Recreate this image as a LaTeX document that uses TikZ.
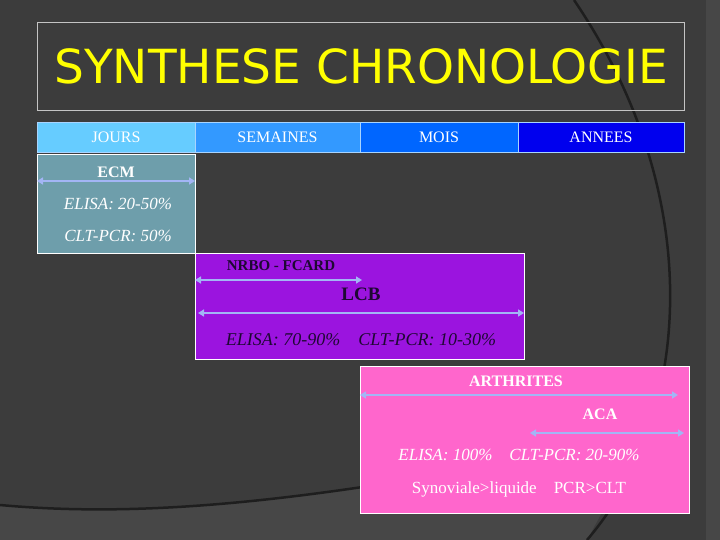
\documentclass[tikz,border=0pt]{standalone}
\usepackage{fontspec}
\setmainfont{Liberation Serif}
\newfontfamily\titlefont{DejaVu Sans}
\usetikzlibrary{arrows.meta,positioning}

\definecolor{bgdark}{HTML}{3C3C3C}
\definecolor{bglight}{HTML}{474747}
\definecolor{arcline}{HTML}{1E1E1E}
\definecolor{frame}{HTML}{C4C4C4}
\definecolor{titleyellow}{HTML}{FFFF00}
\definecolor{jours}{HTML}{66CCFF}
\definecolor{semaines}{HTML}{3399FF}
\definecolor{mois}{HTML}{0066FF}
\definecolor{annees}{HTML}{0000EE}
\definecolor{cellline}{HTML}{A8D4FF}
\definecolor{ecmfill}{HTML}{6E9EAB}
\definecolor{lcbfill}{HTML}{9B14DF}
\definecolor{arthfill}{HTML}{FF66CC}
\definecolor{spanblue}{HTML}{A3B5F5}
\definecolor{darktext}{HTML}{1E0833}

\tikzset{
  cell/.style={draw=cellline, line width=0.8pt, minimum height=30pt, inner sep=0pt,
    outer sep=0pt, text=white, font=\fontsize{16}{18}\selectfont},
  phase/.style={draw=white, line width=1pt, inner sep=0pt, outer sep=0pt, anchor=north west},
  lbl/.style={inner sep=1pt, font=\fontsize{17}{19}\selectfont},
  head/.style={inner sep=1pt, font=\fontsize{16}{18}\selectfont\bfseries},
  span/.style={draw=spanblue, line width=2pt,
    {Triangle[length=6pt,width=7pt]}-{Triangle[length=6pt,width=7pt]}},
}

\begin{document}
\begin{tikzpicture}[x=1pt,y=-1pt]
\useasboundingbox (0,0) rectangle (720,540);

% --- BACKGROUND ---
\fill[bgdark] (0,0) rectangle (720,540);
\fill[bglight] (706,0) rectangle (720,540);
\fill[bglight] (0,505) .. controls (120,516) and (250,506) .. (420,478) -- (625,470) -- (587,540) -- (0,540) -- cycle;
\draw[arcline, line width=2.5pt] (0,505) .. controls (120,516) and (250,506) .. (420,478);
\draw[arcline, line width=2.5pt] (574,0) .. controls (710,200) and (690,420) .. (587,540);

% --- TITLE ---
\node[draw=frame, line width=1pt, minimum width=647pt, minimum height=88pt, inner sep=0pt,
  anchor=north west] (titlebox) at (37,22) {};
\node[text=titleyellow, font=\titlefont\fontsize{47}{50}\selectfont] (title) at (titlebox.center) {SYNTHESE CHRONOLOGIE};

% --- TIME SCALE ---
\node[cell, fill=jours, minimum width=158pt, anchor=north west] (jours) at (37,122) {JOURS};
\node[cell, fill=semaines, minimum width=165pt, right=0pt of jours] (semaines) {SEMAINES};
\node[cell, fill=mois, minimum width=158pt, right=0pt of semaines] (mois) {MOIS};
\node[cell, fill=annees, minimum width=166pt, right=0pt of mois] (annees) {ANNEES};

% --- ECM ---
\node[phase, fill=ecmfill, minimum width=158pt, minimum height=98pt] (ecm) at (37,155) {};
\node[head, text=white] (ecm-name) at (116,172) {ECM};
\coordinate (ecm-a) at ([yshift=-26pt]ecm.north west);
\coordinate (ecm-b) at ([yshift=-26pt]ecm.north east);
\draw[span] (ecm-a) -- (ecm-b);
\node[lbl, text=white, font=\fontsize{17}{19}\selectfont\itshape] (ecm-elisa) at (118,204) {ELISA: 20-50\%};
\node[lbl, text=white, font=\fontsize{17}{19}\selectfont\itshape] (ecm-pcr) at (118,236) {CLT-PCR: 50\%};

% --- LCB ---
\node[phase, fill=lcbfill, minimum width=329pt, minimum height=106pt] (lcb) at (195,253) {};
\node[head, text=darktext, font=\fontsize{15}{17}\selectfont\bfseries] (nrbo) at (281,266) {NRBO - FCARD};
\coordinate (nrbo-a) at ([yshift=-27pt]lcb.north west);
\coordinate (nrbo-b) at ([xshift=167pt,yshift=-27pt]lcb.north west);
\draw[span] (nrbo-a) -- (nrbo-b);
\node[head, text=darktext, font=\fontsize{19}{21}\selectfont\bfseries] (lcb-name) at (361,294) {LCB};
\coordinate (lcb-a) at ([xshift=3pt,yshift=-60pt]lcb.north west);
\coordinate (lcb-b) at ([yshift=-60pt]lcb.north east);
\draw[span] (lcb-a) -- (lcb-b);
\node[lbl, text=darktext, font=\fontsize{18}{20}\selectfont\itshape] (lcb-tests) at (361,340)
  {ELISA: 70-90\%\quad CLT-PCR: 10-30\%};

% --- ARTHRITES ---
\node[phase, fill=arthfill, minimum width=329pt, minimum height=147pt] (arth) at (360,366) {};
\node[head, text=white] (arth-name) at (516,381) {ARTHRITES};
\coordinate (arth-a) at ([yshift=-29pt]arth.north west);
\coordinate (arth-b) at ([xshift=-11pt,yshift=-29pt]arth.north east);
\draw[span] (arth-a) -- (arth-b);
\node[head, text=white] (aca) at (600,414) {ACA};
\coordinate (aca-a) at ([xshift=170pt,yshift=-67pt]arth.north west);
\coordinate (aca-b) at ([xshift=-5pt,yshift=-67pt]arth.north east);
\draw[span] (aca-a) -- (aca-b);
\node[lbl, text=white, font=\fontsize{17}{19}\selectfont\itshape] (arth-tests) at (519,455)
  {ELISA: 100\%\quad CLT-PCR: 20-90\%};
\node[lbl, text=white] (arth-liq) at (519,489) {Synoviale>liquide\quad PCR>CLT};

\end{tikzpicture}
\end{document}
